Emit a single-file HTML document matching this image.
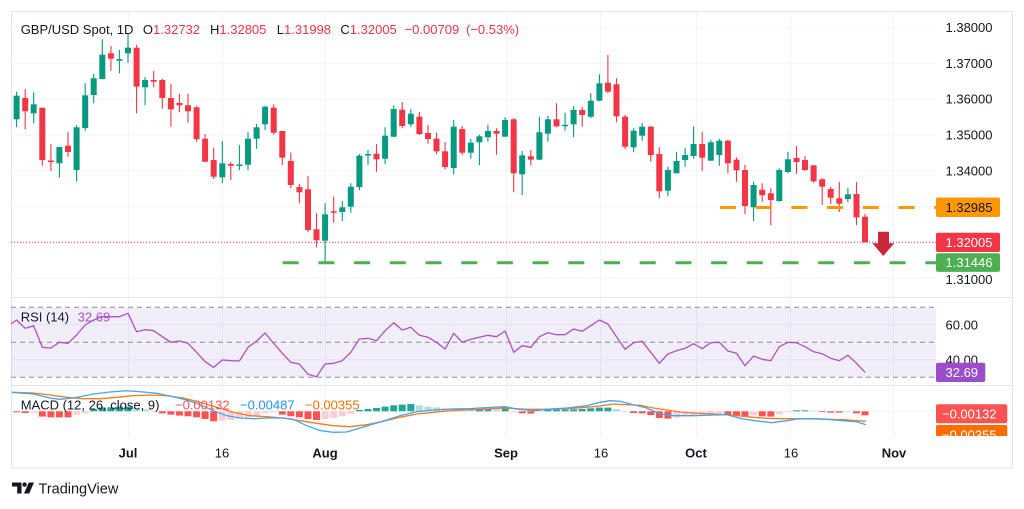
<!DOCTYPE html>
<html><head><meta charset="utf-8"><style>
html,body{margin:0;padding:0;background:#fff;}
svg{display:block;font-family:"Liberation Sans",sans-serif;}
</style></head><body>
<svg width="1024" height="509" viewBox="0 0 1024 509" xmlns="http://www.w3.org/2000/svg">
<defs><clipPath id="macdclip"><rect x="900" y="386" width="124" height="50"/></clipPath></defs>
<rect width="1024" height="509" fill="#fff"/>
<!-- vertical grid -->
<g stroke="#f0f3fa" stroke-width="1">
<path d="M128.5 11V436M222.5 11V436M325.5 11V436M506.5 11V436M600.5 11V436M696.5 11V436M790.5 11V436M893.5 11V436"/>
<path d="M11 27.5H936M11 63.3H936M11 99.2H936M11 135H936M11 170.8H936M11 206.7H936M11 242.5H936M11 278.3H936"/>
<path d="M11 324.8H936M11 359.8H936M11 411.3H936"/>
</g>
<!-- frame -->
<rect x="11.5" y="11.5" width="1001" height="456.5" fill="none" stroke="#e0e3eb"/>
<path d="M11 297.5H1012M11 385.5H1012" stroke="#e0e3eb"/>
<!-- RSI band -->
<rect x="11" y="307.3" width="925" height="70" fill="rgba(126,87,194,0.1)"/>
<path d="M11 307.3H936M11 342.3H936M11 377.3H936" stroke="#8a8d96" stroke-dasharray="5 4" stroke-width="1"/>
<!-- red dotted last price -->
<path d="M11 242.3H936" stroke="#f23645" stroke-dasharray="1 2" stroke-width="1"/>
<!-- green candles -->
<g stroke="#089981" stroke-width="1.1">
<path d="M16.6 91.7V127.3M33.7 92.3V123.3M59.4 147V177.7M76.6 125.3V181.7M85.2 83.3V130.7M93.7 74V103.3M102.3 39.3V79.5M119.4 50V73.3M128 33.3V62.7M145.1 77.3V105M222.3 141V183.3M239.4 145V170.3M248 132V170.3M256.6 124V148.7M265.1 105.7V130M325.1 203.3V262.5M342.3 201.3V221M350.8 183.3V212.7M359.4 154V190.3M368 150V165M385.1 127.3V164M393.7 105.3V137.3M410.8 109.3V126.7M453.7 120V174.7M470.8 138.7V158.7M479.4 134.7V165.3M487.9 124.7V141.7M505.1 117.3V136.7M522.2 151V195M539.4 116.7V160M547.9 115.7V141.7M565.1 112.7V130.7M573.6 106.3V137.3M590.8 93.3V118M599.4 74.3V101.3M633.6 128.3V152.3M642.2 123V140.7M667.9 166.7V196M676.5 151.7V173.3M685.1 147.7V166.7M693.6 126.3V158.7M710.8 140V160.7M719.3 138.7V165.7M753.6 181.7V221M779.3 168.3V201.7M787.9 151.7V173.3M847.9 187.7V202.3"/>
</g>
<g fill="#089981">
<rect x="13.6" y="95.7" width="6" height="23.6"/><rect x="30.7" y="104.3" width="6" height="9"/><rect x="56.4" y="147" width="6" height="16.3"/><rect x="73.6" y="127.3" width="6" height="42.7"/><rect x="82.2" y="95.3" width="6" height="32.7"/><rect x="90.7" y="78.3" width="6" height="16.7"/><rect x="99.3" y="54.7" width="6" height="24.3"/><rect x="116.4" y="59" width="6" height="1.7"/><rect x="125" y="47.7" width="6" height="5.6"/><rect x="142.1" y="80" width="6" height="7.3"/><rect x="219.3" y="163.3" width="6" height="14"/><rect x="236.4" y="164.5" width="6" height="1.5"/><rect x="245" y="138.7" width="6" height="26"/><rect x="253.6" y="127.3" width="6" height="11.4"/><rect x="262.1" y="106.7" width="6" height="17.6"/><rect x="322.1" y="214.3" width="6" height="26.4"/><rect x="339.3" y="207.3" width="6" height="4.7"/><rect x="347.8" y="186.7" width="6" height="20"/><rect x="356.4" y="155.7" width="6" height="31.3"/><rect x="365" y="154" width="6" height="1.5"/><rect x="382.1" y="135.7" width="6" height="23"/><rect x="390.7" y="109" width="6" height="27.7"/><rect x="407.8" y="113.7" width="6" height="10.6"/><rect x="450.7" y="126.7" width="6" height="41.3"/><rect x="467.8" y="142.7" width="6" height="10"/><rect x="476.4" y="136.3" width="6" height="6"/><rect x="484.9" y="131" width="6" height="6.3"/><rect x="502.1" y="120" width="6" height="16.7"/><rect x="519.2" y="155.3" width="6" height="19"/><rect x="536.4" y="132.3" width="6" height="27.4"/><rect x="544.9" y="119.3" width="6" height="14.4"/><rect x="562.1" y="124.8" width="6" height="1.5"/><rect x="570.6" y="110" width="6" height="14.3"/><rect x="587.8" y="100.7" width="6" height="16"/><rect x="596.4" y="83.3" width="6" height="17.4"/><rect x="630.6" y="130.7" width="6" height="16.6"/><rect x="639.2" y="126.7" width="6" height="9"/><rect x="664.9" y="170" width="6" height="20.7"/><rect x="673.5" y="161" width="6" height="12.3"/><rect x="682.1" y="155" width="6" height="5"/><rect x="690.6" y="144" width="6" height="12"/><rect x="707.8" y="142.3" width="6" height="18.4"/><rect x="716.3" y="140.7" width="6" height="14.3"/><rect x="750.6" y="185" width="6" height="22.3"/><rect x="776.3" y="170" width="6" height="31"/><rect x="784.9" y="159.3" width="6" height="12.7"/><rect x="844.9" y="194.3" width="6" height="4.7"/>
</g>
<!-- red candles -->
<g stroke="#f23645" stroke-width="1.1">
<path d="M25.2 89V129.3M42.3 107.7V165.7M50.9 144V171M68 132V156.7M110.9 46V70.7M136.6 45V113.3M153.7 71V87.3M162.3 78.7V108.7M170.9 83.7V126.7M179.4 93.7V112.3M188 93.7V122.7M196.6 106V141.7M205.1 134.3V162.3M213.7 147.7V179M230.8 162V180M273.7 104.3V134.7M282.3 131V165M290.8 152.7V188.3M299.4 183.7V203.3M308 175.7V232.3M316.5 213.3V247.3M333.7 196.7V222.7M376.5 144V171.7M402.2 102V128.3M419.4 112V135M428 125V143.7M436.5 132.7V154.3M445.1 142V169.3M462.2 126V154.7M496.5 128.3V154.7M513.7 118.3V192.3M530.8 150V165.3M556.5 103.3V127.3M582.2 107V126.7M607.9 55V93.3M616.5 78.3V122.3M625.1 115V149M650.8 126V161.7M659.3 147.3V198.3M702.2 132V170.7M727.9 140V173.3M736.5 157.3V181.7M745 164.7V214M762.2 183.3V201.7M770.8 188.3V225.3M796.5 146V174.3M805 156V171M813.6 165.3V182.7M822.2 178V205M830.7 186.7V204M839.3 182V212M856.5 182V225M865 214V242.3"/>
</g>
<g fill="#f23645">
<rect x="22.2" y="98" width="6" height="13.3"/><rect x="39.3" y="107.7" width="6" height="52.3"/><rect x="47.9" y="160.5" width="6" height="1.5"/><rect x="65" y="145.7" width="6" height="6.3"/><rect x="107.9" y="53.3" width="6" height="5.4"/><rect x="133.6" y="47.7" width="6" height="39"/><rect x="150.7" y="80" width="6" height="1.7"/><rect x="159.3" y="80" width="6" height="18"/><rect x="167.9" y="98" width="6" height="11.3"/><rect x="176.4" y="103" width="6" height="2.3"/><rect x="185" y="105.3" width="6" height="6"/><rect x="193.6" y="107.3" width="6" height="32"/><rect x="202.1" y="138.7" width="6" height="23"/><rect x="210.7" y="160" width="6" height="16.7"/><rect x="227.8" y="164" width="6" height="1.7"/><rect x="270.7" y="107.7" width="6" height="25"/><rect x="279.3" y="131" width="6" height="26.7"/><rect x="287.8" y="161" width="6" height="24"/><rect x="296.4" y="187" width="6" height="5.3"/><rect x="305" y="189.3" width="6" height="40.7"/><rect x="313.5" y="229.3" width="6" height="11"/><rect x="330.7" y="211.3" width="6" height="1.5"/><rect x="373.5" y="153.7" width="6" height="5.6"/><rect x="399.2" y="109.7" width="6" height="16.3"/><rect x="416.4" y="116.7" width="6" height="17.3"/><rect x="425" y="133" width="6" height="6"/><rect x="433.5" y="138.7" width="6" height="12.6"/><rect x="442.1" y="151.3" width="6" height="15.7"/><rect x="459.2" y="129" width="6" height="23.7"/><rect x="493.5" y="131" width="6" height="2.7"/><rect x="510.7" y="119.3" width="6" height="54"/><rect x="527.8" y="156.3" width="6" height="3.4"/><rect x="553.5" y="119.3" width="6" height="7"/><rect x="579.2" y="110" width="6" height="5"/><rect x="604.9" y="82.7" width="6" height="9"/><rect x="613.5" y="84.3" width="6" height="32"/><rect x="622.1" y="116.7" width="6" height="30"/><rect x="647.8" y="126.7" width="6" height="28.3"/><rect x="656.3" y="154" width="6" height="37.3"/><rect x="699.2" y="144" width="6" height="13.7"/><rect x="724.9" y="140.7" width="6" height="22.6"/><rect x="733.5" y="159.7" width="6" height="10.6"/><rect x="742" y="170" width="6" height="36"/><rect x="759.2" y="189.7" width="6" height="5.6"/><rect x="767.8" y="193.3" width="6" height="6.7"/><rect x="793.5" y="158" width="6" height="4"/><rect x="802" y="160" width="6" height="10"/><rect x="810.6" y="165.3" width="6" height="16"/><rect x="819.2" y="179.3" width="6" height="7.4"/><rect x="827.7" y="189" width="6" height="8.7"/><rect x="836.3" y="198.3" width="6" height="5.4"/><rect x="853.5" y="194" width="6" height="23.3"/><rect x="862" y="216.7" width="6" height="25.6"/>
</g>
<!-- level lines -->
<path d="M720 207.5H936" stroke="#ff9800" stroke-width="3" stroke-dasharray="16 19.7"/>
<path d="M282.7 262.8H936" stroke="#4caf50" stroke-width="3" stroke-dasharray="16 19.7"/>
<!-- arrow -->
<path d="M878 231.7H889V243.3H894.3L883.3 256L872.3 243.3H878Z" fill="#c9283a"/>
<!-- RSI line -->
<polyline fill="none" stroke="#ab52c8" stroke-width="1.3" stroke-linejoin="round" points="11,324 16.6,320 25.2,328.3 33.7,325.7 42.3,347.3 50.9,348 59.4,342.3 68,343.3 76.6,335 85.2,325 93.7,320 102.3,316.7 110.9,316.7 119.4,316.7 128,313.3 136.6,331.7 145.1,329.7 153.7,330.7 162.3,336.7 170.9,342.3 179.4,341 188,343.3 196.6,352.3 205.1,361.7 213.7,367.3 222.3,360 230.8,360.7 239.4,361 248,347.3 256.6,341 265.1,333 273.7,343.3 282.3,353.3 290.8,362.3 299.4,364 308,374.3 316.5,376.7 325.1,364 333.7,363.3 342.3,360.7 350.8,352.3 359.4,339 368,338.3 376.5,340.7 385.1,330.7 393.7,322.7 402.2,330 410.8,327.3 419.4,335.3 428,337.3 436.5,342.3 445.1,349 453.7,333.3 462.2,342.3 470.8,339.3 479.4,337.3 487.9,335.3 496.5,336.7 505.1,331 513.7,352.3 522.2,345.7 530.8,347.3 539.4,336.7 547.9,332.7 556.5,334.7 565.1,334.7 573.6,329 582.2,331.3 590.8,325.7 599.4,320 607.9,324 616.5,336.7 625.1,349.3 633.6,342.7 642.2,341.3 650.8,352.3 659.3,363.3 667.9,354 676.5,350.7 685.1,348.3 693.6,343.7 702.2,348.7 710.8,342.7 719.3,342.3 727.9,351 736.5,353.3 745,365.7 753.6,356 762.2,359.3 770.8,360.7 779.3,346.7 787.9,342.3 796.5,342.7 805,346.7 813.6,351.7 822.2,353.7 830.7,358.3 839.3,360.7 847.9,355.3 856.5,363.3 865,372.3"/>
<!-- MACD histogram -->
<g fill="#ff5252">
<rect x="13.1" y="411.3" width="7" height="1"/><rect x="21.7" y="411.3" width="7" height="1.7"/><rect x="38.8" y="411.3" width="7" height="5.3"/><rect x="47.4" y="411.3" width="7" height="6"/><rect x="55.9" y="411.3" width="7" height="6"/><rect x="64.5" y="411.3" width="7" height="6"/><rect x="158.8" y="411.3" width="7" height="2"/><rect x="167.4" y="411.3" width="7" height="3.3"/><rect x="175.9" y="411.3" width="7" height="4.3"/><rect x="184.5" y="411.3" width="7" height="5"/><rect x="193.1" y="411.3" width="7" height="6"/><rect x="201.6" y="411.3" width="7" height="7.7"/><rect x="210.2" y="411.3" width="7" height="10"/><rect x="278.8" y="411.3" width="7" height="3.3"/><rect x="287.3" y="411.3" width="7" height="5"/><rect x="295.9" y="411.3" width="7" height="6"/><rect x="304.5" y="411.3" width="7" height="7.7"/><rect x="313" y="411.3" width="7" height="8.7"/><rect x="518.7" y="411.3" width="7" height="2"/><rect x="527.3" y="411.3" width="7" height="2.3"/><rect x="630.1" y="411.3" width="7" height="1.7"/><rect x="638.7" y="411.3" width="7" height="2"/><rect x="647.3" y="411.3" width="7" height="3.7"/><rect x="655.8" y="411.3" width="7" height="6.7"/><rect x="664.4" y="411.3" width="7" height="7.3"/><rect x="724.4" y="411.3" width="7" height="4"/><rect x="733" y="411.3" width="7" height="4.7"/><rect x="741.5" y="411.3" width="7" height="4.7"/><rect x="758.7" y="411.3" width="7" height="5"/><rect x="767.3" y="411.3" width="7" height="5.3"/><rect x="818.7" y="411.3" width="7" height="0.8"/><rect x="827.2" y="411.3" width="7" height="1.3"/><rect x="835.8" y="411.3" width="7" height="1.3"/><rect x="853" y="411.3" width="7" height="2"/><rect x="861.5" y="411.3" width="7" height="4"/>
</g>
<g fill="#ffcdd2">
<rect x="30.2" y="411.3" width="7" height="1.3"/><rect x="73.1" y="411.3" width="7" height="3.3"/><rect x="81.7" y="411.3" width="7" height="2"/><rect x="218.8" y="411.3" width="7" height="9.3"/><rect x="227.3" y="411.3" width="7" height="8.7"/><rect x="235.9" y="411.3" width="7" height="7.3"/><rect x="244.5" y="411.3" width="7" height="6"/><rect x="253.1" y="411.3" width="7" height="4.3"/><rect x="261.6" y="411.3" width="7" height="2"/><rect x="270.2" y="411.3" width="7" height="1"/><rect x="321.6" y="411.3" width="7" height="7.7"/><rect x="330.2" y="411.3" width="7" height="6.7"/><rect x="338.8" y="411.3" width="7" height="5"/><rect x="347.3" y="411.3" width="7" height="2.7"/><rect x="510.2" y="411.3" width="7" height="1"/><rect x="535.9" y="411.3" width="7" height="0.8"/><rect x="621.6" y="411.3" width="7" height="0.8"/><rect x="673" y="411.3" width="7" height="6.3"/><rect x="681.6" y="411.3" width="7" height="5.3"/><rect x="690.1" y="411.3" width="7" height="4.7"/><rect x="698.7" y="411.3" width="7" height="4"/><rect x="707.3" y="411.3" width="7" height="2.7"/><rect x="715.8" y="411.3" width="7" height="2"/><rect x="750.1" y="411.3" width="7" height="4"/><rect x="775.8" y="411.3" width="7" height="3"/><rect x="784.4" y="411.3" width="7" height="1"/><rect x="844.4" y="411.3" width="7" height="1"/>
</g>
<g fill="#26a69a">
<rect x="90.2" y="409" width="7" height="2.3"/><rect x="98.8" y="407.3" width="7" height="4"/><rect x="107.4" y="407.3" width="7" height="4"/><rect x="115.9" y="406.6" width="7" height="4.7"/><rect x="124.5" y="406.6" width="7" height="4.7"/><rect x="355.9" y="410" width="7" height="1.3"/><rect x="364.5" y="409" width="7" height="2.3"/><rect x="373" y="408" width="7" height="3.3"/><rect x="381.6" y="406.6" width="7" height="4.7"/><rect x="390.2" y="405.3" width="7" height="6"/><rect x="398.7" y="404.6" width="7" height="6.7"/><rect x="407.3" y="404" width="7" height="7.3"/><rect x="475.9" y="409.3" width="7" height="2"/><rect x="484.4" y="409" width="7" height="2.3"/><rect x="501.6" y="408.3" width="7" height="3"/><rect x="544.4" y="410" width="7" height="1.3"/><rect x="553" y="409.6" width="7" height="1.7"/><rect x="561.6" y="409.6" width="7" height="1.7"/><rect x="570.1" y="409.3" width="7" height="2"/><rect x="578.7" y="409" width="7" height="2.3"/><rect x="587.3" y="408.3" width="7" height="3"/><rect x="595.9" y="407.6" width="7" height="3.7"/><rect x="604.4" y="407.6" width="7" height="3.7"/><rect x="793" y="410.3" width="7" height="1"/><rect x="801.5" y="410.3" width="7" height="1"/>
</g>
<g fill="#b2dfdb">
<rect x="133.1" y="408" width="7" height="3.3"/><rect x="141.6" y="409.3" width="7" height="2"/><rect x="150.2" y="410.6" width="7" height="0.7"/><rect x="415.9" y="405.3" width="7" height="6"/><rect x="424.5" y="406.6" width="7" height="4.7"/><rect x="433" y="407.3" width="7" height="4"/><rect x="441.6" y="408.6" width="7" height="2.7"/><rect x="450.2" y="409.3" width="7" height="2"/><rect x="458.7" y="410" width="7" height="1.3"/><rect x="467.3" y="410" width="7" height="1.3"/><rect x="493" y="409.3" width="7" height="2"/><rect x="613" y="409" width="7" height="2.3"/><rect x="810.1" y="410.8" width="7" height="0.5"/>
</g>
<!-- MACD lines -->
<polyline fill="none" stroke="#ff7a1a" stroke-width="1.3" stroke-linejoin="round" points="11.7,392.3 33.3,393 50,395 66.7,397.3 83.3,398.7 100,398.7 116.7,397.3 133.3,395.7 150,395 166.7,395.7 183.3,398 200,402.3 216.7,407.3 233.3,412.3 250,415.7 266.7,416.7 283.3,418 300,420.7 316.7,423.3 333.3,425.7 350,426.7 366.7,424.7 383.3,421.3 400,417.3 416.7,414 433.3,412.3 450,410.7 470,409.7 480,409.3 505,408 526.7,409.3 546.7,409.3 566.7,408.7 586.7,407.3 600,406 613.3,404 626.7,404.7 640,405.3 653.3,408 666.7,410 680,412 693.3,413 713.3,414 726.7,414.7 740,416 753.3,417.3 766.7,418.3 780,418.7 793.3,418.7 813.3,418.7 826.7,419.3 843.3,419.7 856.7,420.7 866,421.3"/>
<polyline fill="none" stroke="#42a5f5" stroke-width="1.3" stroke-linejoin="round" points="11.7,392.3 33.3,394 50,398 60,399.3 73.3,398 93.3,394 110,392 126.7,390.7 143.3,392 156.7,393.3 173.3,396.7 186.7,400 200,404.7 213.3,410.7 226.7,415.7 240,418 253.3,418.7 266.7,418 283.3,418 293.3,419.3 306.7,425.7 320,430.5 333.3,432.3 346.7,432 360,428 373.3,424 386.7,420 400,415.7 416.7,411.7 433.3,410 450,409 470,408.7 480,408 505,406.7 516.7,409 533.3,410.7 546.7,409.3 566.7,408 586.7,405.7 600,402.3 610,400.7 620,401.3 633.3,404.7 646.7,408 660,414 673.3,415.7 693.3,415.7 713.3,415 726.7,414.7 743.3,419 760,421.3 771.7,422.7 786.7,420.7 796.7,419 813.3,418.7 826.7,419.3 843.3,420.7 856.7,421.7 866,424.7"/>
<!-- header texts -->
<g font-size="13" fill="#131722">
<text x="20.7" y="34">GBP/USD Spot, 1D</text>
<text x="142.9" y="34">O<tspan fill="#f23645">1.32732</tspan></text>
<text x="210" y="34">H<tspan fill="#f23645">1.32805</tspan></text>
<text x="276.8" y="34">L<tspan fill="#f23645">1.31998</tspan></text>
<text x="340.4" y="34">C<tspan fill="#f23645">1.32005</tspan></text>
<text x="404.6" y="34" fill="#f23645">−0.00709</text>
<text x="466" y="34" fill="#f23645">(−0.53%)</text>
<text x="20.7" y="321.4">RSI (14)</text>
<text x="77.7" y="321.4" fill="#ab52c8">32.69</text>
<text x="20.7" y="409.7">MACD (12, 26, close, 9)</text>
<text x="175" y="409.7" fill="#ff5252">−0.00132</text>
<text x="240" y="409.7" fill="#2196f3">−0.00487</text>
<text x="305" y="409.7" fill="#ff6d00">−0.00355</text>
</g>
<!-- price axis -->
<g font-size="13" fill="#131722">
<text x="945.5" y="32">1.38000</text>
<text x="945.5" y="67.8">1.37000</text>
<text x="945.5" y="103.7">1.36000</text>
<text x="945.5" y="139.5">1.35000</text>
<text x="945.5" y="175.3">1.34000</text>
<text x="945.5" y="283.8">1.31000</text>
<text x="945.5" y="329.5">60.00</text>
<text x="945.5" y="364.5">40.00</text>
</g>
<rect x="936" y="197.5" width="64" height="19.5" rx="2" fill="#ff9800"/>
<text x="945.5" y="211.8" font-size="13" fill="#131722">1.32985</text>
<rect x="936" y="232.7" width="64" height="19.3" rx="2" fill="#f23645"/>
<text x="945.5" y="246.9" font-size="13" fill="#fff">1.32005</text>
<rect x="936" y="253.3" width="64" height="18.6" rx="2" fill="#4caf50"/>
<text x="945.5" y="267.2" font-size="13" fill="#fff">1.31446</text>
<rect x="936" y="362.7" width="49.3" height="19.3" rx="2" fill="#9c4dcc"/>
<text x="945.5" y="377" font-size="13" fill="#fff">32.69</text>
<rect x="936" y="404.3" width="71.3" height="19" rx="2" fill="#ff5252"/>
<text x="942" y="418.5" font-size="13" fill="#fff">−0.00132</text>
<g clip-path="url(#macdclip)">
<rect x="936" y="425" width="71.3" height="19" rx="2" fill="#ff6d00"/>
<text x="942" y="439.3" font-size="13" fill="#fff">−0.00355</text>
</g>
<!-- time axis -->
<g font-size="13" fill="#131722" text-anchor="middle">
<text x="128" y="457.3" font-weight="bold">Jul</text>
<text x="222" y="457.3">16</text>
<text x="325" y="457.3" font-weight="bold">Aug</text>
<text x="506" y="457.3" font-weight="bold">Sep</text>
<text x="601" y="457.3">16</text>
<text x="696" y="457.3" font-weight="bold">Oct</text>
<text x="791" y="457.3">16</text>
<text x="894" y="457.3" font-weight="bold">Nov</text>
</g>
<!-- logo -->
<g fill="#131722">
<path d="M12 482.5h9.5v11h-4.3v-7H12z"/>
<circle cx="24.6" cy="484.6" r="2.2"/>
<path d="M28.8 482.5h5.2l-4.8 11h-5.2z"/>
</g>
<text x="38.5" y="493.5" font-size="14.5" fill="#131722">TradingView</text>
</svg>
</body></html>
